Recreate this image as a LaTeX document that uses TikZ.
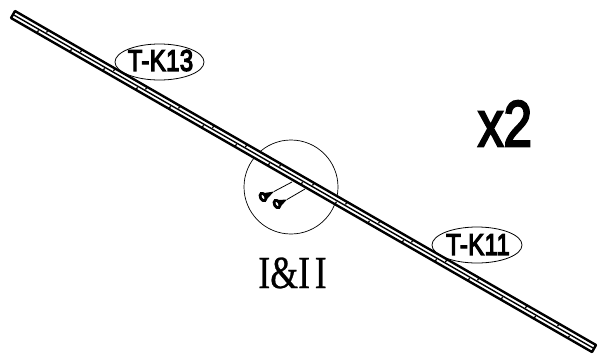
\documentclass[tikz,border=0pt]{standalone}
\usepackage{fontspec}
\usetikzlibrary{shapes.geometric}
\setmainfont{Liberation Sans}
\newfontfamily\tagfont[FakeBold=4.5,LetterSpace=1.5]{Liberation Sans}
\newfontfamily\countfont[FakeBold=3.5]{Liberation Sans}
\newfontfamily\serifont[FakeBold=0.6]{Liberation Serif}
\tikzset{
  x=1pt,y=-1pt,
  tagbox/.style={draw,ellipse,line width=0.8pt,inner sep=0pt,minimum width=#1,minimum height=36pt},
  tagtext/.style={inner sep=0pt,font=\tagfont\fontsize{30}{30}\selectfont,xscale=0.8},
  railline/.style={line width=2.4pt,line join=round},
  notch/.style={line width=1.2pt},
  thin wire/.style={line width=0.8pt},
  screwhead/.style={line width=2.8pt,fill=white},
}
\begin{document}
\begin{tikzpicture}
\useasboundingbox (0,0) rectangle (601,354);
\node[circle,draw,line width=0.7pt,minimum size=94pt,inner sep=0pt] (detail) at (291,187) {};
\node[tagbox=89pt] (tagA) at (159.5,62) {};
\node[tagbox=90pt] (tagB) at (477,245) {};
\node[tagtext] (textA) at (160.5,60.5) {T-K13};
\node[tagtext] (textB) at (478,244.5) {T-K11};
% rail
\coordinate (ua) at (15,11);
\coordinate (ub) at (596,345);
\coordinate (la) at (11,18);
\coordinate (lb) at (592,352);
\coordinate (ma) at (13,14.5);
\coordinate (mb) at (594,348.5);
\fill[white] (ua) -- (ub) -- (lb) -- (la) -- cycle;
\draw[railline] (ua) -- (ub) -- (lb) -- (la) -- cycle;
\draw[line width=1.4pt] (ma) -- (mb);
\foreach \x in {48,82,115,147,180,214,247,281,314,347,380,413,447,479,527,559}
  \draw[notch] (\x,{11+(\x-15)*0.5749}) -- ++(-1.5,2.6);
\foreach \x in {37,70,103,136,169,202,235,268,301,335,368,402,435,468,501,534,568}
  \draw[notch] (\x,{18+(\x-11)*0.5749}) -- ++(1.5,-2.6);
% screws
\coordinate (tipA) at (292,182);
\coordinate (tipB) at (305,189);
\coordinate (neckA) at (274,191.5);
\coordinate (neckB) at (287,199.5);
\coordinate (headA) at (263,197);
\coordinate (headB) at (277,204);
\draw[thin wire] (neckA) -- (tipA);
\draw[thin wire] (neckB) -- (tipB);
\fill (264.5,193) -- (neckA) -- (267,199) -- cycle;
\fill (278.5,200) -- (neckB) -- (281,206) -- cycle;
\draw[screwhead,rotate around={28:(headA)}] (headA) ellipse (2.6pt and 4pt);
\draw[screwhead,rotate around={28:(headB)}] (headB) ellipse (2.6pt and 4pt);
\node[inner sep=0pt,font=\countfont\fontsize{65}{65}\selectfont,xscale=0.79] (count) at (505,123.5) {x2};
\node[inner sep=0pt,font=\serifont\fontsize{46}{46}\selectfont,xscale=0.78] (label) at (292.5,273) {I\&I\kern6pt I};
\end{tikzpicture}
\end{document}
